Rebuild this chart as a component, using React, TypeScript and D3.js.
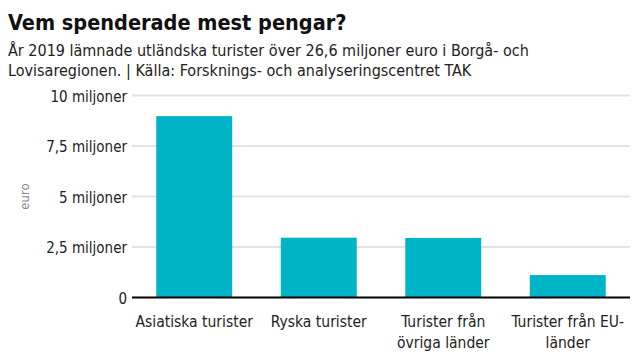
import React from "react";
import * as d3 from "d3";

const categories: string[][] = [
  ["Asiatiska turister"],
  ["Ryska turister"],
  ["Turister från", "övriga länder"],
  ["Turister från EU-", "länder"],
];
const values: number[] = [8.98, 2.96, 2.95, 1.11];
const yTicks: number[] = [0, 2.5, 5, 7.5, 10];
const yTickLabels: string[] = ["0", "2,5 miljoner", "5 miljoner", "7,5 miljoner", "10 miljoner"];

const title = "Vem spenderade mest pengar?";
const subtitle = [
  "År 2019 lämnade utländska turister över 26,6 miljoner euro i Borgå- och",
  "Lovisaregionen. | Källa: Forsknings- och analyseringscentret TAK",
];

const W = 640;
const H = 360;
const left = 132;
const right = 630;
const top = 95.5;
const bottom = 297.5;
const FONT = "'DejaVu Sans Condensed', 'Liberation Sans Narrow', sans-serif";

export default function App() {
  const x = d3
    .scaleBand<number>()
    .domain(d3.range(categories.length))
    .range([left, right])
    .paddingInner(0.39)
    .paddingOuter(0.195);
  const y = d3.scaleLinear().domain([0, 10]).range([bottom, top]);

  return (
    <svg width={W} height={H} style={{ position: "absolute", left: 0, top: 0 }} fontFamily={FONT}>
      <rect width={W} height={H} fill="#fff" />
      <text x={8} y={30} fontSize={21.5} fontWeight="bold" fill="#111">{title}</text>
      {subtitle.map((s, i) => (
        <text key={i} x={8} y={56 + i * 20} fontSize={16} fill="#222">{s}</text>
      ))}
      {yTicks.map((t, i) => (
        <g key={t}>
          {t !== 0 && (
            <line x1={left} x2={right} y1={y(t)} y2={y(t)} stroke="#e3e3e3" strokeWidth={2} />
          )}
          <text x={127} y={y(t)} dy="0.42em" textAnchor="end" fontSize={15} fill="#222">
            {yTickLabels[i]}
          </text>
        </g>
      ))}
      <text
        transform={`translate(29,${(top + bottom) / 2}) rotate(-90)`}
        textAnchor="middle"
        fontSize={13}
        fill="#888"
      >
        euro
      </text>
      {values.map((v, i) => (
        <rect key={i} x={x(i)} y={y(v)} width={x.bandwidth()} height={y(0) - y(v)} fill="#00b4c8" />
      ))}
      <line x1={left} x2={right} y1={y(0)} y2={y(0)} stroke="#000" strokeWidth={2} />
      {categories.map((lines, i) =>
        lines.map((l, j) => (
          <text
            key={`${i}-${j}`}
            x={(x(i) as number) + x.bandwidth() / 2}
            y={327 + j * 21}
            textAnchor="middle"
            fontSize={15.5}
            fill="#222"
          >
            {l}
          </text>
        ))
      )}
    </svg>
  );
}
